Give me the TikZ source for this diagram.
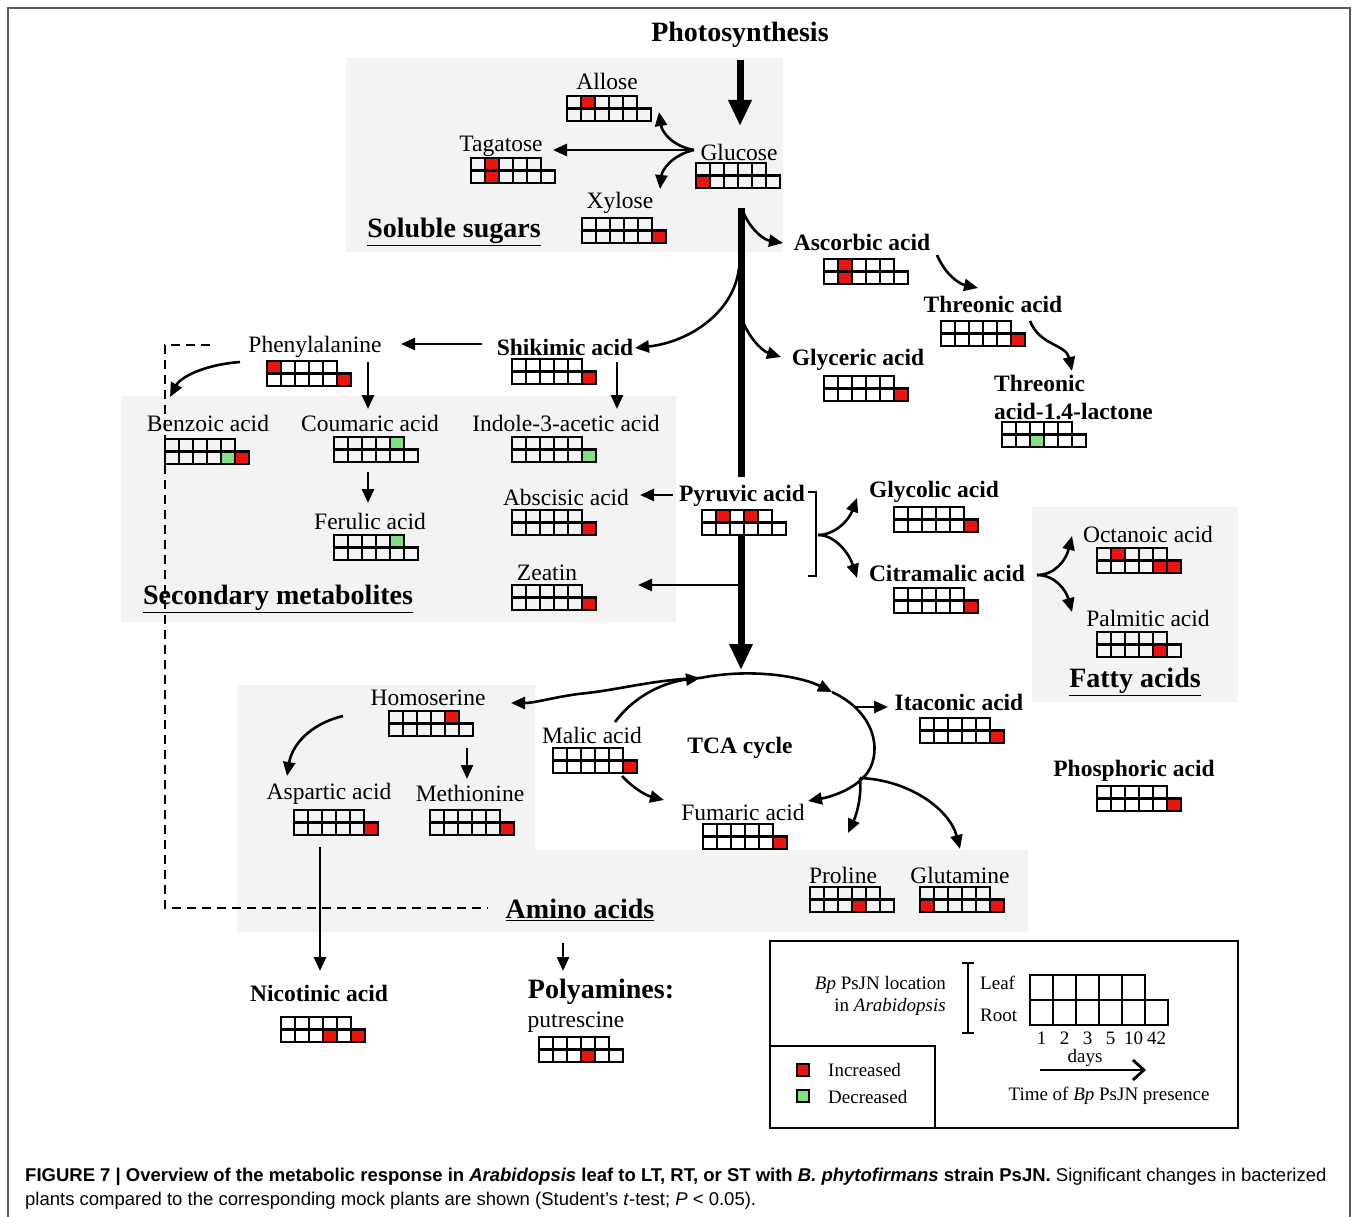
\documentclass[tikz,border=0pt]{standalone}
\usepackage{fontspec}
\setmainfont{Liberation Serif}
\newfontfamily\capfont{Liberation Sans}
\usetikzlibrary{arrows.meta}
\definecolor{incr}{RGB}{235,20,15}
\definecolor{decr}{RGB}{130,225,130}
\definecolor{bggray}{RGB}{243,243,243}
\definecolor{framegray}{RGB}{90,90,90}
\tikzset{
  lab/.style={inner sep=0pt, font=\fontsize{23.5}{26}\selectfont},
  blab/.style={inner sep=0pt, font=\fontsize{23.5}{26}\selectfont\bfseries},
  biglab/.style={inner sep=0pt, font=\fontsize{28}{32}\selectfont\bfseries},
  leg/.style={inner sep=0pt, font=\fontsize{19}{22}\selectfont},
  arr/.style={line width=2.6pt, -{Triangle[length=14pt,width=12pt]}},
  plain/.style={line width=2.6pt},
  fatline/.style={line width=7pt},
  fatarr/.style={line width=7pt, -{Triangle[length=26pt,width=22pt]}},
  gl/.style={line width=2.6pt},
  bg/.style={fill=bggray, draw=none},
}
\newcommand\mgrid[4]{%
  \begin{scope}[shift={(#1,#2)}]
    \foreach \c in {#3}{\ifnum\c>0
      \pgfmathtruncatemacro\rr{\c>10 ? 1 : 0}%
      \pgfmathtruncatemacro\cc{\c>10 ? \c-11 : \c-1}%
      \fill[incr] (\cc*14,\rr*12.5) rectangle ++(14,12.5);\fi}
    \foreach \c in {#4}{\ifnum\c>0
      \pgfmathtruncatemacro\rr{\c>10 ? 1 : 0}%
      \pgfmathtruncatemacro\cc{\c>10 ? \c-11 : \c-1}%
      \fill[decr] (\cc*14,\rr*12.5) rectangle ++(14,12.5);\fi}
    \draw[gl] (0,0) rectangle (70,12.5);
    \draw[gl] (0,12.5) rectangle (84,25);
    \foreach \i in {1,...,5} \draw[gl] (\i*14,0) -- (\i*14,25);
  \end{scope}}
\begin{document}
\begin{tikzpicture}[x=1pt,y=-1pt]
\useasboundingbox (0,0) rectangle (1358,1217);
\fill[white] (0,0) rectangle (1358,1217);
\draw[framegray, line width=1.5pt] (8,1217) -- (8,8) -- (1350,8) -- (1350,1217);

% backgrounds
\fill[bg] (346,58) rectangle (783,252);
\fill[bg] (121,396) rectangle (676,622);
\fill[bg] (1032,507) rectangle (1238,702);
\fill[bg] (237,685) -- (535,685) -- (535,850) -- (1028,850) -- (1028,932) -- (237,932) -- cycle;

% labels
\node[biglab] (photo) at (740,35) {Photosynthesis};
\node[lab] (allose) at (607,81) {Allose};
\node[lab] (tagatose) at (501,146) {Tagatose};
\node[lab] (glucose) at (739,152) {Glucose};
\node[lab] (xylose) at (620,203) {Xylose};
\node[biglab] (sugars) at (454,232) {\underline{Soluble sugars}};
\node[blab] (ascorbic) at (862,242) {Ascorbic acid};
\node[blab] (threonic) at (993,304) {Threonic acid};
\node[blab] (glyceric) at (858,360) {Glyceric acid};
\node[blab, anchor=west] (lact1) at (994,383) {Threonic};
\node[blab, anchor=west] (lact2) at (994,412) {acid-1.4-lactone};
\node[blab] (shikimic) at (565,347) {Shikimic acid};
\node[lab] (phenyl) at (315,347) {Phenylalanine};
\node[lab] (benzoic) at (208,423) {Benzoic acid};
\node[lab] (coumaric) at (370,423) {Coumaric acid};
\node[lab] (indole) at (566,423) {Indole-3-acetic acid};
\node[lab] (ferulic) at (370,521) {Ferulic acid};
\node[lab] (abscisic) at (566,497) {Abscisic acid};
\node[lab] (zeatin) at (547,573) {Zeatin};
\node[biglab] (secondary) at (278,599) {\underline{Secondary metabolites}};
\node[blab] (pyruvic) at (742,496) {Pyruvic acid};
\node[blab] (glycolic) at (934,492) {Glycolic acid};
\node[blab] (citramalic) at (947,573) {Citramalic acid};
\node[lab] (octanoic) at (1148,534) {Octanoic acid};
\node[lab] (palmitic) at (1148,618) {Palmitic acid};
\node[biglab] (fatty) at (1135,682) {\underline{Fatty acids}};
\node[lab] (homoserine) at (428,698) {Homoserine};
\node[lab] (malic) at (592,735) {Malic acid};
\node[blab] (tca) at (740,748) {TCA cycle};
\node[blab] (itaconic) at (959,702) {Itaconic acid};
\node[lab] (aspartic) at (329,794) {Aspartic acid};
\node[lab] (methionine) at (470,793) {Methionine};
\node[lab] (fumaric) at (743,812) {Fumaric acid};
\node[blab] (phosphoric) at (1134,771) {Phosphoric acid};
\node[lab] (proline) at (843,875) {Proline};
\node[lab] (glutamine) at (960,875) {Glutamine};
\node[biglab] (amino) at (580,910) {\underline{Amino acids}};
\node[blab] (nicotinic) at (319,993) {Nicotinic acid};
\node[biglab] (polyamines) at (601,992) {Polyamines:};
\node[lab] (putrescine) at (576,1022) {putrescine};

% grids
\mgrid{567}{96}{2}{0}
\mgrid{471}{158}{2,12}{0}
\mgrid{696}{163}{11}{0}
\mgrid{582}{218}{16}{0}
\mgrid{824}{259}{2,12}{0}
\mgrid{941}{321}{16}{0}
\mgrid{824}{376}{16}{0}
\mgrid{1002}{422}{0}{13}
\mgrid{267}{361}{1,16}{0}
\mgrid{512}{359}{16}{0}
\mgrid{165}{439}{16}{15}
\mgrid{334}{437}{0}{5}
\mgrid{512}{437}{0}{16}
\mgrid{334}{535}{0}{5}
\mgrid{512}{510}{16}{0}
\mgrid{512}{585}{16}{0}
\mgrid{702}{510}{2,4}{0}
\mgrid{894}{507}{16}{0}
\mgrid{894}{588}{16}{0}
\mgrid{1097}{548}{2,15,16}{0}
\mgrid{1097}{632}{15}{0}
\mgrid{389}{711}{5}{0}
\mgrid{920}{718}{16}{0}
\mgrid{553}{748}{16}{0}
\mgrid{294}{810}{16}{0}
\mgrid{430}{810}{16}{0}
\mgrid{703}{824}{16}{0}
\mgrid{1097}{786}{16}{0}
\mgrid{810}{887}{14}{0}
\mgrid{920}{887}{11,16}{0}
\mgrid{281}{1017}{14,16}{0}
\mgrid{539}{1037}{14}{0}

% coordinates
\coordinate (ps) at (740,60);
\coordinate (pe) at (740,126);
\coordinate (gb) at (694,150);
\coordinate (m1) at (741,208);
\coordinate (m2) at (741,477);
\coordinate (m3) at (741,536);
\coordinate (m4) at (741,670);

% thick main flow
\draw[fatarr] (ps) -- (pe);
\draw[fatline] (m1) -- (m2);
\draw[fatarr] (m3) -- (m4);

% glucose branches
\draw[arr] (gb) -- (553,150);
\draw[arr] (gb) .. controls (672,146) and (662,132) .. (659,112);
\draw[arr] (gb) .. controls (672,155) and (662,170) .. (660,189);

% side branches of main line
\draw[arr] (743,212) .. controls (752,232) and (765,240) .. (783,243);
\draw[arr] (743,322) .. controls (752,343) and (765,352) .. (781,357);
\draw[arr] (739,268) .. controls (734,312) and (690,342) .. (635,348);
\draw[arr] (937,255) .. controls (946,276) and (960,284) .. (978,288);
\draw[arr] (1030,321) .. controls (1040,346) and (1066,344) .. (1072,371);

% shikimate pathway
\draw[arr] (482,344) -- (401,344);
\draw[arr] (617,362) -- (617,409);
\draw[arr] (368,362) -- (368,409);
\draw[arr] (368,472) -- (368,503);
\draw[arr] (240,362) .. controls (202,365) and (180,378) .. (170,397);

% pyruvic
\draw[arr] (673,495) -- (640,495);
\draw[arr] (741,585) -- (638,585);
\draw[plain] (808,492) -- (816,492) -- (816,576) -- (808,576);
\draw[arr] (818,535) .. controls (835,535) and (849,520) .. (857,498);
\draw[arr] (818,535) .. controls (835,535) and (849,553) .. (857,578);
\draw[arr] (1037,575) .. controls (1055,575) and (1066,560) .. (1072,536);
\draw[arr] (1037,575) .. controls (1055,575) and (1066,590) .. (1072,612);

% TCA cycle
\coordinate (t1) at (700,678);
\coordinate (t2) at (832,692);
\draw[arr] (615,722) .. controls (635,695) and (665,682) .. (t1);
\draw[arr] (t1) .. controls (750,668) and (800,676) .. (t2);
\draw[arr] (t2) .. controls (875,712) and (882,750) .. (868,772) .. controls (855,790) and (830,797) .. (808,801);
\draw[arr] (856,707) -- (888,707);
\draw[arr] (t1) .. controls (650,680) and (620,690) .. (578,694) .. controls (550,698) and (535,703) .. (511,703);
\draw[arr] (860,778) .. controls (862,800) and (855,818) .. (848,833);
\draw[arr] (860,778) .. controls (910,780) and (950,810) .. (960,849);
\draw[arr] (622,776) .. controls (635,790) and (648,796) .. (664,800);

% amino acids
\draw[arr] (343,716) .. controls (310,724) and (292,745) .. (287,776);
\draw[arr] (467,748) -- (467,779);
\draw[arr] (320,847) -- (320,971);
\draw[arr] (563,943) -- (563,971);
\draw[line width=2.6pt, dash pattern=on 9pt off 6pt] (210,345) -- (165,345) -- (165,908) -- (488,908);

% legend
\draw[line width=2pt] (770,941) rectangle (1238,1128);
\draw[line width=2pt] (770,1046) -- (935,1046) -- (935,1128);
\node[leg, anchor=east] (lg1) at (946,985) {\textit{Bp} PsJN location};
\node[leg, anchor=east] (lg2) at (946,1007) {in \textit{Arabidopsis}};
\draw[line width=2pt] (968,963) -- (968,1033);
\draw[line width=2pt] (962,963) -- (974,963);
\draw[line width=2pt] (962,1033) -- (974,1033);
\node[leg, anchor=west] (leaf) at (980,983) {Leaf};
\node[leg, anchor=west] (root) at (980,1015) {Root};
\draw[line width=2.8pt] (1030,975) rectangle (1145,1000);
\draw[line width=2.8pt] (1030,1000) rectangle (1168,1025);
\foreach \i in {1,...,5} \draw[line width=2.8pt] (1030+\i*23,975) -- (1030+\i*23,1025);
\foreach \d [count=\i] in {1,2,3,5,10,42}
  \node[leg] (day\i) at (1018.5+\i*23,1038) {\d};
\node[leg] (days) at (1085,1058) {days};
\draw[line width=2.8pt, -{Straight Barb[length=11pt,width=20pt,line width=2.8pt]}] (1040,1070) -- (1146,1070);
\node[leg] (time) at (1109,1096) {Time of \textit{Bp} PsJN presence};
\draw[line width=1.5pt, fill=incr] (797,1064) rectangle (809,1076);
\draw[line width=1.5pt, fill=decr] (797,1090) rectangle (809,1102);
\node[leg, anchor=west] (inc) at (828,1070) {Increased};
\node[leg, anchor=west] (dec) at (828,1097) {Decreased};

% caption
\node[inner sep=0pt, anchor=west, font=\capfont\fontsize{18.5}{20}\selectfont] (cap1) at (25,1177)
  {\textbf{FIGURE 7 | Overview of the metabolic response in \textit{Arabidopsis} leaf to LT, RT, or ST with \textit{B. phytofirmans} strain PsJN.} Significant changes in bacterized};
\node[inner sep=0pt, anchor=west, font=\capfont\fontsize{18.5}{20}\selectfont] (cap2) at (25,1201)
  {plants compared to the corresponding mock plants are shown (Student’s \textit{t}-test; \textit{P} < 0.05).};
\end{tikzpicture}
\end{document}
